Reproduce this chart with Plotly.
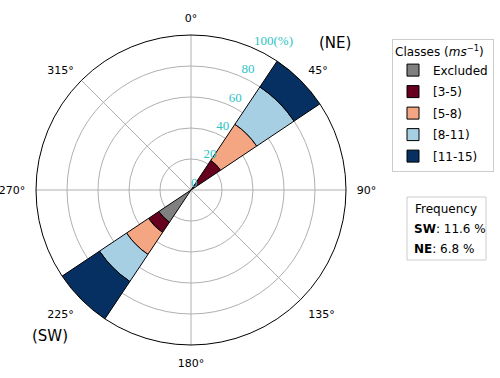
import plotly.graph_objects as go

# ---- data ----
directions = [45, 225]  # NE, SW (degrees)
classes = ["Excluded", "[3-5)", "[5-8)", "[8-11)", "[11-15)"]
excluded = [0, 25]
c3_5 = [23, 8]
c5_8 = [28, 17]
c8_11 = [29, 21]
c11_15 = [20, 29]
colors = ["#808080", "#67001f", "#f4a582", "#a6cfe3", "#053061"]
radial_ticks = [0, 20, 40, 60, 80, 100]
radial_text = ["0", "20", "40", "60", "80", "100(%)"]
radial_label_dir = 24  # degrees, direction of the radial tick labels
angle_ticks = [0, 45, 90, 135, 180, 225, 270, 315]
angle_text = [f"{a}°" for a in angle_ticks]
freq_title = "Frequency"
freq_lines = ["<b>SW</b>: 11.6 %", "<b>NE</b>: 6.8 %"]

series = [excluded, c3_5, c5_8, c8_11, c11_15]

fig = go.Figure()
for name, vals, col in zip(classes, series, colors):
    fig.add_trace(go.Barpolar(
        r=vals, theta=directions, width=[22.5] * len(directions),
        name=name, legendgroup=name,
        marker=dict(color=col, line=dict(color="black", width=1)),
    ))

# radial tick labels (horizontal, serif, cyan) drawn through the polar scale
fig.add_trace(go.Scatterpolar(
    r=radial_ticks, theta=[radial_label_dir] * len(radial_ticks),
    mode="text", text=radial_text, textposition="top right",
    textfont=dict(family="Liberation Serif", size=13, color="#2cc4c4"),
    cliponaxis=False, showlegend=False, hoverinfo="skip",
))

cx, cy, R = 191, 190, 155
W, H = 500, 378


def px(x):
    return x / W


def py(y):
    return 1 - y / H


annotations = [
    dict(text="(NE)", x=px(335), y=py(43), xref="paper", yref="paper", showarrow=False,
         xanchor="center", yanchor="middle", font=dict(size=15)),
    dict(text="(SW)", x=px(50), y=py(336), xref="paper", yref="paper", showarrow=False,
         xanchor="center", yanchor="middle", font=dict(size=15)),
    dict(text=freq_title, x=px(446), y=py(209), xref="paper", yref="paper", showarrow=False,
         xanchor="center", yanchor="middle", font=dict(size=12)),
]
for i, t in enumerate(freq_lines):
    annotations.append(dict(text=t, x=px(412), y=py(229 + 19.5 * i), xref="paper", yref="paper",
                            showarrow=False, xanchor="left", yanchor="middle",
                            font=dict(size=12)))

fig.update_layout(
    width=W, height=H,
    margin=dict(l=0, r=0, t=0, b=0),
    paper_bgcolor="white",
    font=dict(family="DejaVu Sans", size=11, color="black"),
    polar=dict(
        domain=dict(x=[(cx - R) / W, (cx + R) / W], y=[(H - cy - R) / H, (H - cy + R) / H]),
        bgcolor="white",
        barmode="stack",
        angularaxis=dict(
            rotation=90, direction="clockwise",
            tickmode="array", tickvals=angle_ticks, ticktext=angle_text,
            showgrid=True, gridcolor="#b0b0b0", gridwidth=1,
            showline=True, linecolor="black", linewidth=1,
            ticks="outside", ticklen=8, tickcolor="rgba(0,0,0,0)",
            tickfont=dict(size=11, color="black"),
        ),
        radialaxis=dict(
            range=[0, 100], tickmode="array", tickvals=radial_ticks,
            showticklabels=False, showline=False, ticks="",
            showgrid=True, gridcolor="#b0b0b0", gridwidth=1,
        ),
    ),
    legend=dict(
        title=dict(text="Classes (<i>ms</i><sup>−1</sup>)", font=dict(size=12)),
        x=px(392), y=py(39), xanchor="left", yanchor="top",
        bordercolor="#cccccc", borderwidth=1, bgcolor="white",
        font=dict(size=12), tracegroupgap=2.5,
    ),
    shapes=[
        dict(type="rect", xref="paper", yref="paper",
             x0=px(407), x1=px(486), y0=py(260), y1=py(197),
             line=dict(color="#cccccc", width=1), fillcolor="rgba(0,0,0,0)", layer="below"),
    ],
    annotations=annotations,
    showlegend=True,
)

fig.write_html("out.html", config={"displayModeBar": False},
               post_script="document.body.style.margin='0px';")
